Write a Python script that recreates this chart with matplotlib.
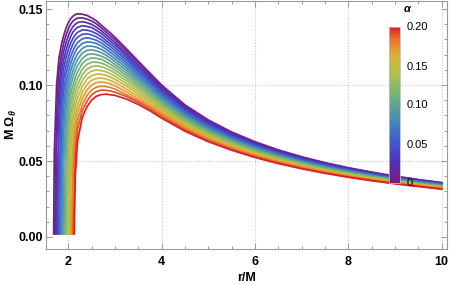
"""
Vertical epicyclic frequency M*Omega_theta vs r/M, one curve per alpha (0 .. 0.20).
"""
import numpy as np
import matplotlib
matplotlib.use("Agg")
import matplotlib.pyplot as plt
import matplotlib.ticker as ticker
from matplotlib.colors import LinearSegmentedColormap, Normalize
from matplotlib.cm import ScalarMappable

plt.rcParams["font.family"] = ["Liberation Sans", "DejaVu Sans"]
plt.rcParams["mathtext.fontset"] = "custom"
plt.rcParams["mathtext.rm"] = "Liberation Sans:bold"
plt.rcParams["mathtext.it"] = "Liberation Sans:italic:bold"

# ── data ─────────────────────────────────────────────────────────────────────

alpha = [0.00, 0.01, 0.02, 0.03, 0.04, 0.05, 0.06, 0.07, 0.08, 0.09, 0.10,
         0.11, 0.12, 0.13, 0.14, 0.15, 0.16, 0.17, 0.18, 0.19, 0.20]

# radius where each curve leaves zero
r_start = [1.686, 1.708, 1.730, 1.752, 1.774, 1.796, 1.818, 1.840, 1.862, 1.884, 1.906,
           1.929, 1.951, 1.973, 1.995, 2.017, 2.039, 2.061, 2.083, 2.105, 2.127]
omega_start = 0.002

r_inner = [1.70, 1.75, 1.80, 1.85, 1.90, 1.95, 2.00, 2.05, 2.10, 2.15, 2.20,
           2.30, 2.40, 2.50, 2.60, 2.70, 2.80, 2.90, 3.00, 3.25, 3.50, 3.75]
r_outer = [4.0, 4.5, 5.0, 5.5, 6.0, 6.5, 7.0, 7.5, 8.0, 8.5, 9.0, 9.5, 10.0]

N = None
omega_inner = [
    [0.0554, 0.1005, 0.1178, 0.1263, 0.1324, 0.1373, 0.1410, 0.1436, 0.1453, 0.1464, 0.1469,
     0.1466, 0.1458, 0.1442, 0.1423, 0.1396, 0.1369, 0.1343, 0.1314, 0.1237, 0.1157, 0.1078],
    [N, 0.0847, 0.1100, 0.1201, 0.1273, 0.1327, 0.1369, 0.1401, 0.1420, 0.1433, 0.1441,
     0.1442, 0.1434, 0.1421, 0.1403, 0.1378, 0.1352, 0.1325, 0.1298, 0.1222, 0.1143, 0.1068],
    [N, 0.0615, 0.0990, 0.1142, 0.1221, 0.1278, 0.1324, 0.1359, 0.1384, 0.1400, 0.1411,
     0.1417, 0.1410, 0.1399, 0.1381, 0.1359, 0.1333, 0.1307, 0.1280, 0.1206, 0.1129, 0.1055],
    [N, N, 0.0851, 0.1069, 0.1163, 0.1229, 0.1279, 0.1319, 0.1349, 0.1367, 0.1380,
     0.1390, 0.1386, 0.1378, 0.1360, 0.1340, 0.1315, 0.1289, 0.1264, 0.1192, 0.1115, 0.1043],
    [N, N, 0.0666, 0.0973, 0.1105, 0.1180, 0.1233, 0.1275, 0.1308, 0.1331, 0.1347,
     0.1363, 0.1361, 0.1353, 0.1339, 0.1320, 0.1295, 0.1271, 0.1246, 0.1176, 0.1101, 0.1030],
    [N, N, 0.0273, 0.0851, 0.1038, 0.1123, 0.1184, 0.1232, 0.1269, 0.1298, 0.1315,
     0.1334, 0.1337, 0.1330, 0.1317, 0.1300, 0.1277, 0.1253, 0.1228, 0.1161, 0.1088, 0.1019],
    [N, N, N, 0.0695, 0.0953, 0.1067, 0.1137, 0.1186, 0.1226, 0.1257, 0.1280,
     0.1304, 0.1311, 0.1305, 0.1295, 0.1279, 0.1257, 0.1234, 0.1210, 0.1145, 0.1073, 0.1006],
    [N, N, N, 0.0410, 0.0847, 0.1006, 0.1083, 0.1140, 0.1184, 0.1219, 0.1246,
     0.1274, 0.1284, 0.1281, 0.1274, 0.1258, 0.1238, 0.1215, 0.1192, 0.1129, 0.1059, 0.0993],
    [N, N, N, N, 0.0698, 0.0932, 0.1029, 0.1093, 0.1140, 0.1177, 0.1206,
     0.1241, 0.1256, 0.1256, 0.1249, 0.1236, 0.1218, 0.1196, 0.1173, 0.1112, 0.1045, 0.0981],
    [N, N, N, N, 0.0474, 0.0830, 0.0972, 0.1042, 0.1095, 0.1136, 0.1169,
     0.1210, 0.1228, 0.1232, 0.1225, 0.1214, 0.1198, 0.1177, 0.1154, 0.1096, 0.1031, 0.0968],
    [N, N, N, N, N, 0.0698, 0.0905, 0.0990, 0.1050, 0.1094, 0.1128,
     0.1176, 0.1199, 0.1205, 0.1200, 0.1191, 0.1177, 0.1157, 0.1135, 0.1079, 0.1016, 0.0955],
    [N, N, N, N, N, 0.0504, 0.0808, 0.0936, 0.1000, 0.1048, 0.1087,
     0.1142, 0.1168, 0.1178, 0.1176, 0.1170, 0.1155, 0.1137, 0.1117, 0.1062, 0.1001, 0.0942],
    [N, N, N, N, N, N, 0.0689, 0.0872, 0.0949, 0.1005, 0.1046,
     0.1104, 0.1136, 0.1150, 0.1151, 0.1145, 0.1133, 0.1117, 0.1097, 0.1045, 0.0986, 0.0929],
    [N, N, N, N, N, N, 0.0538, 0.0786, 0.0901, 0.0958, 0.1003,
     0.1068, 0.1104, 0.1122, 0.1126, 0.1121, 0.1111, 0.1097, 0.1077, 0.1028, 0.0971, 0.0916],
    [N, N, N, N, N, N, 0.0241, 0.0682, 0.0840, 0.0909, 0.0961,
     0.1030, 0.1072, 0.1092, 0.1099, 0.1095, 0.1088, 0.1075, 0.1057, 0.1009, 0.0955, 0.0902],
    [N, N, N, N, N, N, N, 0.0560, 0.0763, 0.0863, 0.0916,
     0.0991, 0.1039, 0.1062, 0.1072, 0.1071, 0.1065, 0.1053, 0.1037, 0.0992, 0.0941, 0.0890],
    [N, N, N, N, N, N, N, 0.0337, 0.0672, 0.0806, 0.0869,
     0.0952, 0.1003, 0.1031, 0.1043, 0.1046, 0.1041, 0.1030, 0.1016, 0.0973, 0.0925, 0.0876],
    [N, N, N, N, N, N, N, N, 0.0557, 0.0738, 0.0824,
     0.0912, 0.0968, 0.1000, 0.1016, 0.1020, 0.1016, 0.1008, 0.0995, 0.0955, 0.0909, 0.0863],
    [N, N, N, N, N, N, N, N, 0.0379, 0.0657, 0.0771,
     0.0871, 0.0931, 0.0968, 0.0986, 0.0992, 0.0991, 0.0984, 0.0974, 0.0936, 0.0896, 0.0853],
    [N, N, N, N, N, N, N, N, N, 0.0550, 0.0712,
     0.0832, 0.0894, 0.0936, 0.0957, 0.0966, 0.0966, 0.0961, 0.0953, 0.0924, 0.0886, 0.0842],
    [N, N, N, N, N, N, N, N, N, 0.0404, 0.0635,
     0.0787, 0.0857, 0.0901, 0.0926, 0.0937, 0.0940, 0.0936, 0.0932, 0.0907, 0.0872, 0.0830],
]

omega_outer = [
    [0.1000, 0.0869, 0.0770, 0.0691, 0.0627, 0.0573, 0.0528, 0.0489, 0.0456, 0.0427, 0.0401, 0.0378, 0.0358],
    [0.0989, 0.0860, 0.0763, 0.0685, 0.0622, 0.0569, 0.0524, 0.0486, 0.0453, 0.0424, 0.0398, 0.0376, 0.0356],
    [0.0978, 0.0852, 0.0756, 0.0679, 0.0617, 0.0564, 0.0520, 0.0482, 0.0450, 0.0421, 0.0396, 0.0373, 0.0354],
    [0.0967, 0.0843, 0.0749, 0.0673, 0.0611, 0.0560, 0.0516, 0.0479, 0.0447, 0.0418, 0.0393, 0.0371, 0.0352],
    [0.0956, 0.0834, 0.0741, 0.0667, 0.0606, 0.0555, 0.0512, 0.0475, 0.0443, 0.0416, 0.0391, 0.0369, 0.0349],
    [0.0946, 0.0826, 0.0734, 0.0661, 0.0601, 0.0551, 0.0508, 0.0472, 0.0440, 0.0413, 0.0388, 0.0367, 0.0347],
    [0.0935, 0.0817, 0.0727, 0.0655, 0.0596, 0.0546, 0.0504, 0.0468, 0.0437, 0.0410, 0.0386, 0.0364, 0.0345],
    [0.0924, 0.0808, 0.0720, 0.0649, 0.0591, 0.0542, 0.0500, 0.0465, 0.0434, 0.0407, 0.0383, 0.0362, 0.0343],
    [0.0913, 0.0800, 0.0713, 0.0643, 0.0585, 0.0537, 0.0496, 0.0461, 0.0431, 0.0404, 0.0381, 0.0360, 0.0341],
    [0.0902, 0.0791, 0.0706, 0.0637, 0.0580, 0.0533, 0.0492, 0.0458, 0.0428, 0.0401, 0.0378, 0.0357, 0.0339],
    [0.0891, 0.0783, 0.0699, 0.0631, 0.0575, 0.0528, 0.0489, 0.0454, 0.0425, 0.0399, 0.0376, 0.0355, 0.0337],
    [0.0880, 0.0774, 0.0691, 0.0625, 0.0570, 0.0524, 0.0485, 0.0451, 0.0421, 0.0396, 0.0373, 0.0353, 0.0334],
    [0.0869, 0.0765, 0.0684, 0.0619, 0.0565, 0.0519, 0.0481, 0.0447, 0.0418, 0.0393, 0.0370, 0.0350, 0.0332],
    [0.0858, 0.0757, 0.0677, 0.0613, 0.0559, 0.0515, 0.0477, 0.0444, 0.0415, 0.0390, 0.0368, 0.0348, 0.0330],
    [0.0847, 0.0748, 0.0670, 0.0607, 0.0554, 0.0510, 0.0473, 0.0440, 0.0412, 0.0387, 0.0365, 0.0346, 0.0328],
    [0.0837, 0.0739, 0.0663, 0.0601, 0.0549, 0.0506, 0.0469, 0.0437, 0.0409, 0.0384, 0.0363, 0.0344, 0.0326],
    [0.0826, 0.0731, 0.0656, 0.0595, 0.0544, 0.0501, 0.0465, 0.0433, 0.0406, 0.0381, 0.0360, 0.0341, 0.0324],
    [0.0815, 0.0722, 0.0648, 0.0589, 0.0539, 0.0497, 0.0461, 0.0430, 0.0402, 0.0379, 0.0358, 0.0339, 0.0321],
    [0.0804, 0.0713, 0.0641, 0.0583, 0.0533, 0.0492, 0.0457, 0.0426, 0.0399, 0.0376, 0.0355, 0.0337, 0.0319],
    [0.0793, 0.0705, 0.0634, 0.0577, 0.0528, 0.0488, 0.0453, 0.0423, 0.0396, 0.0373, 0.0353, 0.0334, 0.0317],
    [0.0782, 0.0696, 0.0627, 0.0571, 0.0523, 0.0483, 0.0449, 0.0419, 0.0393, 0.0370, 0.0350, 0.0332, 0.0315],
]

cbar_ticks = [0.0, 0.05, 0.10, 0.15, 0.20]
cbar_labels = ["0.", "0.05", "0.10", "0.15", "0.20"]

# Mathematica-like "Rainbow" gradient
rainbow = LinearSegmentedColormap.from_list("rainbow_mma", [
    (0.00, (0.471, 0.109, 0.527)),
    (0.14, (0.310, 0.200, 0.720)),
    (0.28, (0.250, 0.380, 0.820)),
    (0.42, (0.290, 0.570, 0.700)),
    (0.56, (0.450, 0.700, 0.470)),
    (0.70, (0.700, 0.750, 0.300)),
    (0.82, (0.870, 0.680, 0.220)),
    (0.91, (0.910, 0.480, 0.190)),
    (1.00, (0.860, 0.130, 0.130)),
])
norm = Normalize(vmin=0.0, vmax=0.2)

# ── figure ───────────────────────────────────────────────────────────────────

frame_col = "#999999"
fig = plt.figure(figsize=(4.49, 2.85), dpi=100)
ax = fig.add_axes([45.7 / 449, 1 - 249 / 285, 401.6 / 449, 248 / 285])

r_all = np.array(r_inner + r_outer)
for k, a in enumerate(alpha):
    row = np.array(omega_inner[k] + omega_outer[k], dtype=float)
    ok = ~np.isnan(row)
    rr = np.concatenate([[r_start[k]], r_all[ok]])
    yy = np.concatenate([[omega_start], row[ok]])
    ax.plot(rr, yy, color=rainbow(norm(a)), lw=1.25, solid_joinstyle="round", zorder=3)

ax.set_xlim(1.516, 10.12)
ax.set_ylim(-0.0079, 0.1553)

ax.xaxis.set_major_locator(ticker.MultipleLocator(2))
ax.xaxis.set_minor_locator(ticker.MultipleLocator(0.5))
ax.yaxis.set_major_locator(ticker.MultipleLocator(0.05))
ax.yaxis.set_minor_locator(ticker.MultipleLocator(0.01))
ax.yaxis.set_major_formatter(ticker.FuncFormatter(lambda v, _: f"{v:.2f}"))

ax.tick_params(which="both", direction="in", top=True, right=True, color=frame_col, width=0.7)
ax.tick_params(which="major", length=4, labelsize=9, pad=2)
ax.tick_params(axis="x", which="major", pad=5)
ax.tick_params(which="minor", length=2)
for lab in ax.get_xticklabels() + ax.get_yticklabels():
    lab.set_fontweight("bold")
for sp in ax.spines.values():
    sp.set_color(frame_col)
    sp.set_linewidth(0.8)

for gx in [2, 4, 6, 8, 10]:
    ax.axvline(gx, color="#c8c8c8", lw=0.8, ls=(0, (1, 1.5)), zorder=1)
for gy in [0.05, 0.10]:
    ax.axhline(gy, color="#c8c8c8", lw=0.8, ls=(0, (1, 1.5)), zorder=1)

ax.set_xlabel("r/M", fontsize=9, fontweight="bold", labelpad=3)
ax.set_ylabel(r"M Ω$_{\theta}$", fontsize=9, fontweight="bold", va="center")
ax.yaxis.set_label_coords(-0.086, 0.5)

# colour bar inside the plot
cax = fig.add_axes([389 / 449, 1 - 182.5 / 285, 11 / 449, 156 / 285])
cb = fig.colorbar(ScalarMappable(norm=norm, cmap=rainbow), cax=cax, ticks=cbar_ticks)
cb.ax.set_yticklabels(cbar_labels)
cb.ax.tick_params(length=0, labelsize=8, pad=5)
cb.outline.set_edgecolor("#bbbbbb")
cb.outline.set_linewidth(0.6)
fig.text(407 / 449, 1 - 9 / 285, "α", fontsize=8, fontweight="bold", style="italic",
         ha="center", va="center")

fig.savefig("out.png", dpi=100)
